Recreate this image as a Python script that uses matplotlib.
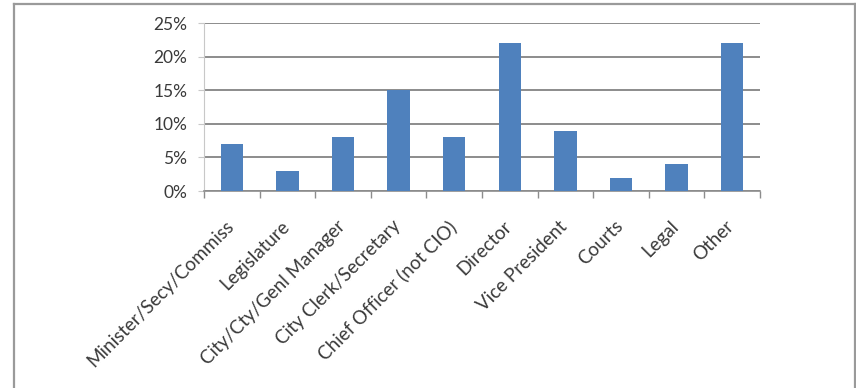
import numpy as np
import matplotlib.pyplot as plt
from matplotlib.lines import Line2D
from matplotlib.ticker import FuncFormatter, MultipleLocator

categories = [
    "Minister/Secy/Commiss",
    "Legislature",
    "City/Cty/Genl Manager",
    "City Clerk/Secretary",
    "Chief Officer (not CIO)",
    "Director",
    "Vice President",
    "Courts",
    "Legal",
    "Other",
]
shares = [7, 3, 8, 15, 8, 22, 9, 2, 4, 22]

BAR_COLOR = "#4F81BD"
GRID_COLOR = "#8c8c8c"
TEXT_COLOR = "#3a3a3a"

plt.rcParams["font.family"] = ["Lato", "DejaVu Sans"]

fig = plt.figure(figsize=(8.56, 3.88), dpi=100)
ax = fig.add_axes([204 / 856, 1 - 191 / 388, 556 / 856, 168 / 388])

x = np.arange(len(categories))
ax.bar(x, shares, width=0.4, color=BAR_COLOR, zorder=3)

ax.set_xlim(-0.5, len(categories) - 0.5)
ax.set_ylim(0, 25)
ax.yaxis.set_major_locator(MultipleLocator(5))
ax.yaxis.set_major_formatter(FuncFormatter(lambda v, _: f"{v:.0f}%"))
ax.grid(axis="y", color=GRID_COLOR, linewidth=1.4, zorder=0)

for side in ("top", "right"):
    ax.spines[side].set_visible(False)
ax.spines["left"].set_color("#c8c8c8")
ax.spines["bottom"].set_color(GRID_COLOR)
ax.spines["bottom"].set_linewidth(1.2)

# category ticks sit between bars, labels centred under bars
ax.set_xticks(np.arange(-0.5, len(categories) + 0.5, 1.0))
ax.set_xticklabels([])
ax.tick_params(axis="x", length=5, color=GRID_COLOR, width=1)
ax.tick_params(axis="y", length=4, color="#c8c8c8", labelsize=12.5,
               labelcolor=TEXT_COLOR, pad=8)

for xi, label in zip(x, categories):
    ax.annotate(label, xy=(xi, 0), xycoords="data",
                xytext=(-5, -19), textcoords="offset points",
                rotation=45, ha="right", va="top", rotation_mode="anchor",
                fontsize=13.5, color=TEXT_COLOR)

# outer frame: left, top and right edges
frame = dict(color="#9a9a9a", linewidth=1.6, transform=fig.transFigure)
fig.add_artist(Line2D([14.5 / 856, 14.5 / 856], [0, 1 - 3.5 / 388], **frame))
fig.add_artist(Line2D([14.5 / 856, 855 / 856], [1 - 3.5 / 388, 1 - 3.5 / 388], **frame))
fig.add_artist(Line2D([855 / 856, 855 / 856], [0, 1 - 3.5 / 388], **frame))

fig.savefig("out.png", dpi=100)
